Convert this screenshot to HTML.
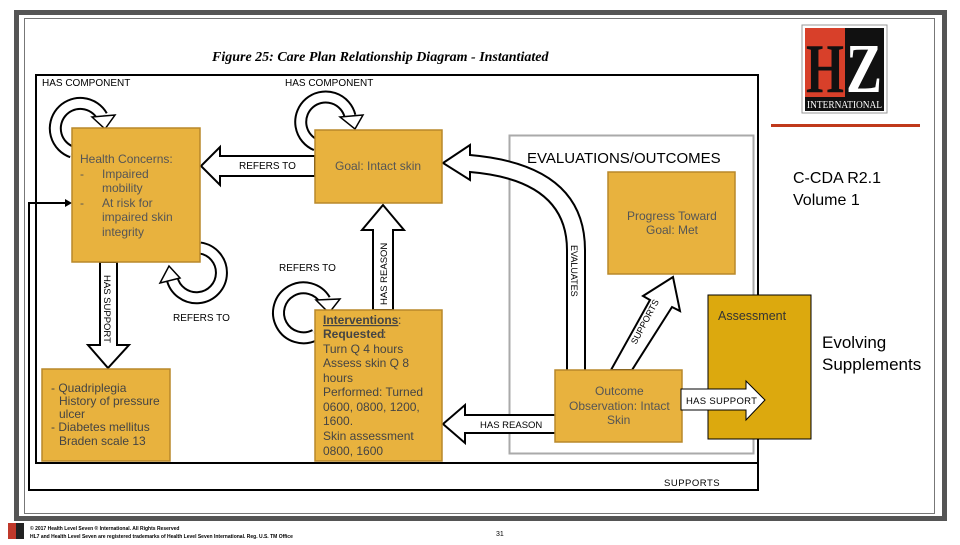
<!DOCTYPE html>
<html><head><meta charset="utf-8"><style>
html,body{margin:0;padding:0;background:#fff;}
body{width:960px;height:540px;position:relative;overflow:hidden;font-family:"Liberation Sans",sans-serif;}
</style></head><body>
<svg width="960" height="540" viewBox="0 0 960 540" xmlns="http://www.w3.org/2000/svg" font-family="Liberation Sans, sans-serif">
<!-- frame -->
<rect x="16.5" y="12.5" width="928" height="506" fill="none" stroke="#555" stroke-width="5"/>
<rect x="24.5" y="18.5" width="910" height="495" fill="none" stroke="#777" stroke-width="1"/>
<!-- title -->
<text x="212" y="61" font-family="Liberation Serif, serif" font-weight="bold" font-style="italic" font-size="14">Figure 25: Care Plan Relationship Diagram - Instantiated</text>
<!-- diagram box -->
<rect x="36" y="75" width="722" height="388" fill="none" stroke="#000" stroke-width="2"/>
<polyline points="758,463 758,490 29,490 29,203 70,203" fill="none" stroke="#000" stroke-width="2"/>
<polygon points="72,203 65,199 65,207" fill="#000"/>
<text x="664" y="486" font-size="9.5" letter-spacing="0.5">SUPPORTS</text>
<!-- evaluations box -->
<rect x="509.5" y="135.5" width="244" height="318" fill="none" stroke="#aaa" stroke-width="2"/>
<text x="527" y="163" font-size="15">EVALUATIONS/OUTCOMES</text>

<text x="42" y="86" font-size="10">HAS COMPONENT</text>
<text x="285" y="86" font-size="10">HAS COMPONENT</text>

<!-- loops -->
<g fill="none">
<path d="M72,152 A25,25 0 1 1 102,116" stroke="#000" stroke-width="13"/>
<path d="M72,152 A25,25 0 1 1 102,116" stroke="#fff" stroke-width="9"/>
<path d="M316,145 A25,25 0 1 1 350,116" stroke="#000" stroke-width="13"/>
<path d="M316,145 A25,25 0 1 1 350,116" stroke="#fff" stroke-width="9"/>
<path d="M200,248 A25,25 0 1 1 172,278" stroke="#000" stroke-width="13"/>
<path d="M200,248 A25,25 0 1 1 172,278" stroke="#fff" stroke-width="9"/>
<path d="M315,335 A25,25 0 1 1 325,300" stroke="#000" stroke-width="13"/>
<path d="M315,335 A25,25 0 1 1 325,300" stroke="#fff" stroke-width="9"/>
</g>
<polygon points="92,117 115,115 105,129" fill="#fff" stroke="#000" stroke-width="1.5"/>
<polygon points="340,117 363,115 355,129" fill="#fff" stroke="#000" stroke-width="1.5"/>
<polygon points="180,278 160,283 169,266" fill="#fff" stroke="#000" stroke-width="1.5"/>
<polygon points="316,300 340,299 329,313" fill="#fff" stroke="#000" stroke-width="1.5"/>
<text x="173" y="321" font-size="10">REFERS TO</text>
<text x="279" y="271" font-size="10">REFERS TO</text>

<!-- REFERS TO horizontal -->
<polygon points="315,156 220,156 220,147 201,166 220,185 220,176 315,176" fill="#fff" stroke="#000" stroke-width="2"/>
<text x="239" y="169" font-size="10">REFERS TO</text>

<!-- HAS SUPPORT down -->
<polygon points="100,262 100,345 88,345 108,368 129,345 117,345 117,262" fill="#fff" stroke="#000" stroke-width="2"/>
<text transform="translate(104,275) rotate(90)" font-size="9.5">HAS SUPPORT</text>

<!-- HAS REASON up -->
<polygon points="373,310 373,230 362,230 383,205 404,230 393,230 393,310" fill="#fff" stroke="#000" stroke-width="2"/>
<text transform="translate(387,305) rotate(-90)" font-size="9.5">HAS REASON</text>

<!-- HAS REASON left -->
<polygon points="556,415 465,415 465,405 443,424 465,443 465,433 556,433" fill="#fff" stroke="#000" stroke-width="2"/>
<text x="480" y="428" font-size="9.5">HAS REASON</text>

<!-- EVALUATES curved -->
<path d="M567,370 L567,250 Q567,180 470,172 L470,180 L443,163 L470,145 L470,155 Q585,165 585,250 L585,370" fill="#fff" stroke="#000" stroke-width="2"/>
<text transform="translate(571,245) rotate(90)" font-size="9">EVALUATES</text>

<!-- SUPPORTS diagonal -->
<polygon points="611,370 650,300 643,296 673,277 680,311 672,307 632,370" fill="#fff" stroke="#000" stroke-width="2"/>
<text transform="translate(636,345) rotate(-62)" font-size="9">SUPPORTS</text>

<!-- boxes -->
<g stroke="#b8882a" stroke-width="1.5" fill="#e8b23e">
<rect x="72" y="128" width="128" height="134"/>
<rect x="315" y="130" width="127" height="73"/>
<rect x="608" y="172" width="127" height="102"/>
<rect x="555" y="370" width="127" height="72"/>
<rect x="315" y="310" width="127" height="151"/>
<rect x="42" y="369" width="128" height="92"/>
</g>
<rect x="708" y="295" width="103" height="144" fill="#dca90e" stroke="#000" stroke-width="1"/>
<text x="718" y="320" font-size="12.5" fill="#333">Assessment</text>

<g font-size="12" fill="#555">
<text x="80" y="163">Health Concerns:</text>
<text x="80" y="178">-</text><text x="102" y="178">Impaired</text>
<text x="102" y="192">mobility</text>
<text x="80" y="207">-</text><text x="102" y="207">At risk for</text>
<text x="102" y="221">impaired skin</text>
<text x="102" y="236">integrity</text>
<text x="335" y="170">Goal: Intact skin</text>
<text x="627" y="220">Progress Toward</text>
<text x="646" y="234">Goal: Met</text>
<text x="595" y="395">Outcome</text>
<text x="569" y="410">Observation: Intact</text>
<text x="607" y="424">Skin</text>
</g>
<g font-size="12" fill="#444">
<text x="323" y="324" text-decoration="underline" font-weight="bold">Interventions</text><text x="398" y="324">:</text>
<text x="323" y="338" font-weight="bold">Requested</text><text x="383" y="338">:</text>
<text x="323" y="353">Turn  Q 4 hours</text>
<text x="323" y="367">Assess skin Q 8</text>
<text x="323" y="382">hours</text>
<text x="323" y="396">Performed: Turned</text>
<text x="323" y="411">0600, 0800, 1200,</text>
<text x="323" y="425">1600.</text>
<text x="323" y="440">Skin assessment</text>
<text x="323" y="455">0800, 1600</text>
<text x="51" y="392">- Quadriplegia</text>
<text x="59" y="405">History of pressure</text>
<text x="59" y="418">ulcer</text>
<text x="51" y="431">- Diabetes mellitus</text>
<text x="59" y="445">Braden scale    13</text>
</g>

<!-- HAS SUPPORT arrow -->
<polygon points="681,389 746,389 746,381 765,400 746,420 746,410 681,410" fill="#fff" stroke="#000" stroke-width="1"/>
<text x="686" y="404" font-size="9.5" letter-spacing="0.3">HAS SUPPORT</text>

<!-- logo -->
<rect x="802" y="25" width="85" height="88" fill="#fff" stroke="#999" stroke-width="1"/>
<rect x="805" y="28" width="40" height="69" fill="#d8402a"/>
<rect x="845" y="28" width="39" height="69" fill="#111"/>
<text x="806" y="92" font-family="Liberation Serif, serif" font-size="70" font-weight="bold" fill="#111" textLength="38" lengthAdjust="spacingAndGlyphs">H</text>
<text x="846" y="92" font-family="Liberation Serif, serif" font-size="70" font-weight="bold" fill="#fff" textLength="36" lengthAdjust="spacingAndGlyphs">Z</text>
<rect x="805" y="97" width="79" height="14" fill="#111"/>
<text x="807" y="108" font-family="Liberation Serif, serif" font-size="10" fill="#fff" textLength="75" lengthAdjust="spacingAndGlyphs">INTERNATIONAL</text>
<rect x="771" y="124" width="149" height="3" fill="#c0391b"/>

<text x="793" y="183" font-size="16">C-CDA R2.1</text>
<text x="793" y="205" font-size="16">Volume 1</text>
<text x="822" y="348" font-size="17">Evolving</text>
<text x="822" y="370" font-size="17">Supplements</text>

<!-- footer -->
<rect x="8" y="523" width="16" height="16" fill="#c0392b"/>
<rect x="16" y="523" width="8" height="16" fill="#222"/>
<text x="30" y="530" font-size="5" font-weight="bold">© 2017 Health Level Seven ® International. All Rights Reserved</text>
<text x="30" y="538" font-size="5" font-weight="bold">HL7 and Health Level Seven are registered trademarks of Health Level Seven International. Reg. U.S. TM Office</text>
<text x="496" y="536" font-size="7">31</text>
</svg>
</body></html>
